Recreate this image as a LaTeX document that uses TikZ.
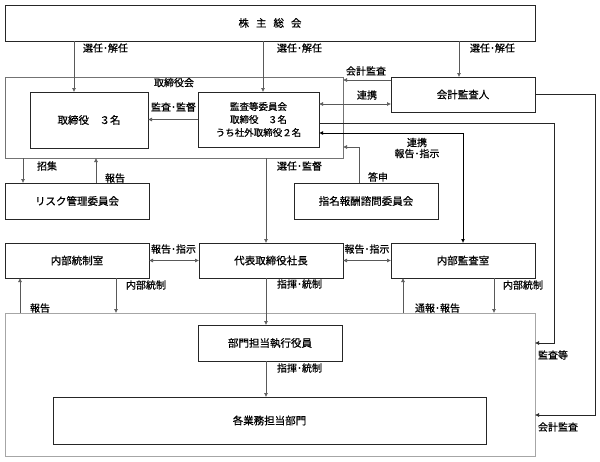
\documentclass[tikz,border=0pt]{standalone}
\usepackage{fontspec}
\setmainfont[FakeBold=0.6]{Noto Sans CJK JP}
\usetikzlibrary{arrows.meta,positioning}
\tikzset{
    every node/.style={font=\fontsize{10}{12}\selectfont},
    box/.style={draw=black!85, line width=.9pt, inner sep=0, outer sep=0, font=\fontsize{10.5}{13}\selectfont},
    grp/.style={draw=black!55, line width=.9pt, inner sep=0, outer sep=0},
    lbl/.style={inner sep=0, outer sep=0},
    arr/.style={draw=black!65, line width=.6pt, -{Latex[length=4pt,width=4pt]}},
    dbl/.style={arr, {Latex[length=4pt,width=4pt]}-{Latex[length=4pt,width=4pt]}},
}

\begin{document}
\begin{tikzpicture}[x=1pt, y=-1pt]
    \useasboundingbox (0,0) rectangle (600,461);

    % groups
    \node[grp, minimum width=338, minimum height=81] (board) at (174,117.5) {};
    \node[grp, draw=black!35, minimum width=530, minimum height=143] (ops) at (270,384.5) {};
    \node[lbl, anchor=north] (boardlbl) at ([yshift=-1pt]board.north) {取締役会};

    % boxes
    \node[box, minimum width=530, minimum height=36] (gm) at (270,23) {株\hspace{7pt}主\hspace{7pt}総\hspace{7pt}会};
    \node[box, minimum width=118, minimum height=56] (dir) at (89,120) {取締役　３名};
    \node[box, minimum width=121, minimum height=55, align=center, font=\fontsize{9.5}{13}\selectfont] (acm) at (258.5,119.5) {監査等委員会\\取締役　３名\\うち社外取締役２名};
    \node[box, minimum width=144, minimum height=35] (aud) at (463,94.5) {会計監査人};
    \node[box, minimum width=144, minimum height=36] (risk) at (77,201) {リスク管理委員会};
    \node[box, minimum width=144, minimum height=36] (nom) at (366,201) {指名報酬諮問委員会};
    \node[box, minimum width=144, minimum height=35] (ic) at (77,260.5) {内部統制室};
    \node[box, minimum width=144, minimum height=35] (ceo) at (271,260.5) {代表取締役社長};
    \node[box, minimum width=144, minimum height=35] (ia) at (463,260.5) {内部監査室};
    \node[box, minimum width=144, minimum height=36] (exec) at (270,343) {部門担当執行役員};
    \node[box, minimum width=433, minimum height=47] (dept) at (269.5,420.5) {各業務担当部門};

    % columns and rails
    \coordinate (xa) at (74,0);
    \coordinate (xb) at (263,0);
    \coordinate (xc) at (459,0);
    \coordinate (xd) at (266,0);
    \coordinate (xn) at (359,0);
    \coordinate (yn) at (0,147);
    \coordinate (xr1) at (23,0);
    \coordinate (xr2) at (96,0);
    \coordinate (xi1) at (116,0);
    \coordinate (xi2) at (20,0);
    \coordinate (xi3) at (494,0);
    \coordinate (xi4) at (403,0);
    \coordinate (railA) at (554,343);
    \coordinate (railB) at (595,415);

    \draw[arr] (gm.south -| xa) -- (dir.north -| xa);
    \draw[arr] (gm.south -| xb) -- (acm.north -| xb);
    \draw[arr] (gm.south -| xc) -- (aud.north -| xc);
    \node[lbl, anchor=west] (sel1) at (83,48) {選任･解任};
    \node[lbl, anchor=west] (sel2) at (277,48) {選任･解任};
    \node[lbl, anchor=west] (sel3) at (470,48) {選任･解任};

    \draw[arr] ([yshift=14.5pt]aud.west) -- ([yshift=14.5pt]aud.west -| board.east);
    \node[lbl] (acct1) at (366,71) {会計監査};
    \draw[dbl] ([yshift=15.5pt]acm.east) -- ([yshift=15.5pt]acm.east -| aud.west);
    \node[lbl] (coop1) at (367,95) {連携};
    \draw[arr] (acm.west) -- (acm.west -| dir.east);
    \node[lbl] (sup) at (173.5,107) {監査･監督};

    \draw[dbl, draw=black, line width=1pt] ([yshift=-13.5pt]acm.east) -| (ia.north);
    \node[lbl, align=center] (coop2) at (417,148) {連携\\[-1pt]報告･指示};
    \draw[arr] (nom.north -| xn) |- (board.east |- yn);
    \node[lbl, anchor=west] (resp) at (368,177) {答申};

    \draw[arr] (board.south -| xr1) -- (risk.north -| xr1);
    \node[lbl, anchor=west] (conv) at (37,166) {招集};
    \draw[arr] (risk.north -| xr2) -- (board.south -| xr2);
    \node[lbl, anchor=west] (rep1) at (105,178) {報告};
    \draw[arr] (board.south -| xd) -- (ceo.north -| xd);
    \node[lbl, anchor=west] (appt) at (277,166) {選任･監督};

    \draw[dbl] (ic.east) -- (ceo.west);
    \node[lbl] (ri1) at (173.5,249) {報告･指示};
    \draw[dbl] (ceo.east) -- (ia.west);
    \node[lbl] (ri2) at (367,249) {報告･指示};

    \draw[arr] (ic.south -| xi1) -- (ops.north -| xi1);
    \node[lbl, anchor=west] (ictl1) at (126,285) {内部統制};
    \draw[arr] (ops.north -| xi2) -- (ic.south -| xi2);
    \node[lbl, anchor=west] (rep2) at (30,308) {報告};
    \draw[arr] (ia.south -| xi3) -- (ops.north -| xi3);
    \node[lbl, anchor=west] (ictl2) at (503,285) {内部統制};
    \draw[arr] (ops.north -| xi4) -- (ia.south -| xi4);
    \node[lbl, anchor=west] (rep3) at (415,308) {通報･報告};

    \draw[arr] (ceo.south -| xd) -- (exec.north -| xd);
    \node[lbl, anchor=west] (cmd1) at (277,284) {指揮･統制};
    \draw[arr] (exec.south -| xd) -- (dept.north -| xd);
    \node[lbl, anchor=west] (cmd2) at (277,368) {指揮･統制};

    \draw[arr, draw=black!85] ([yshift=-3.5pt]acm.east) -| (railA) -- (railA -| ops.east);
    \node[lbl, anchor=west] (audit) at (538,355) {監査等};
    \draw[arr, draw=black!85] (aud.east) -| (railB) -- (railB -| ops.east);
    \node[lbl, anchor=west] (acct2) at (538,427) {会計監査};
\end{tikzpicture}
\end{document}
